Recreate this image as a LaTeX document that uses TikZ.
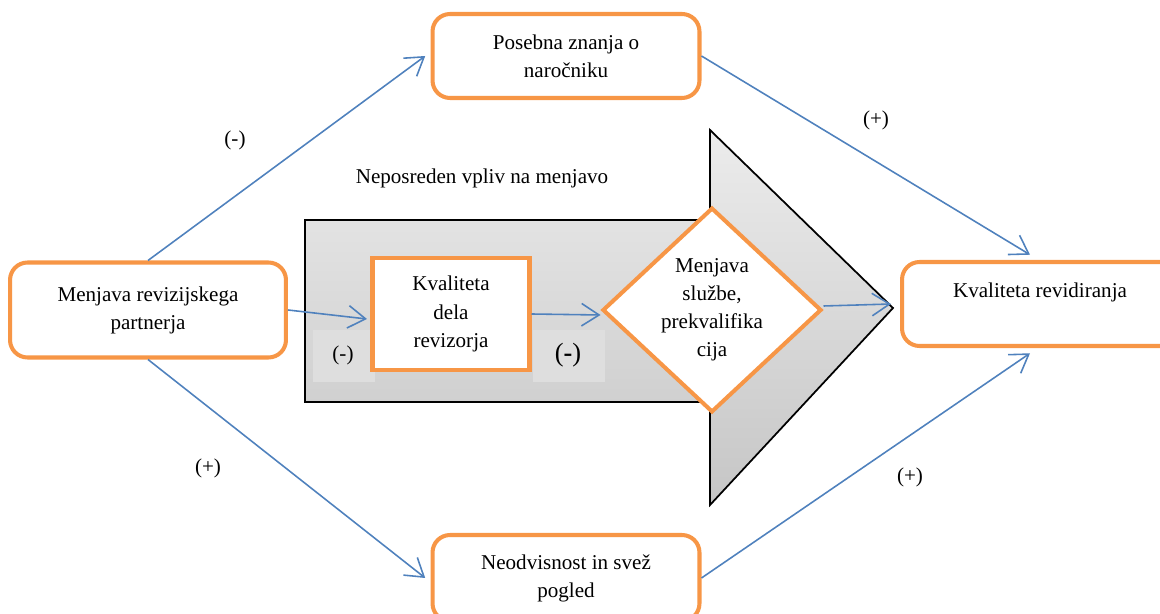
\documentclass[tikz,border=0pt]{standalone}
\usepackage{fontspec}
\setmainfont{Liberation Serif}
\usetikzlibrary{shapes.geometric, arrows.meta, positioning}
\definecolor{boxorange}{RGB}{247,150,70}
\definecolor{linkblue}{RGB}{79,129,189}
\definecolor{patchgray}{RGB}{222,222,222}

\tikzset{
    roundbox/.style={draw=boxorange, line width=2.3pt, rounded corners=0.35cm, fill=white,
        align=center, font=\fontsize{12}{16}\selectfont, inner sep=2pt},
    squarebox/.style={draw=boxorange, line width=2.3pt, fill=white,
        align=center, font=\fontsize{12}{16}\selectfont},
    link/.style={draw=linkblue, line width=0.9pt, -{Straight Barb[length=3.5mm,width=4.5mm]}},
    sign/.style={font=\fontsize{12}{16}\selectfont, inner sep=1pt}
}

\begin{document}
\begin{tikzpicture}[x=0.02cm, y=-0.02cm]
    \useasboundingbox (0,0) rectangle (1160,614);

    % big shaded arrow
    \shade[top color=gray!15, bottom color=gray!45, draw=black, line width=1pt]
        (305,220) -- (710,220) -- (710,130) -- (893,308) -- (710,505) -- (710,402) -- (305,402) -- cycle;
    \fill[patchgray] (313,330) rectangle (375,382);
    \fill[patchgray] (533,330) rectangle (605,382);

    \node[font=\fontsize{12}{16}\selectfont] (title) at (482,178) {Neposreden vpliv na menjavo};

    % boxes
    \node[roundbox, minimum width=5.34cm, minimum height=1.68cm] (znanja) at (566,56) {Posebna znanja o\\naročniku};
    \node[roundbox, minimum width=5.52cm, minimum height=1.9cm] (partner) at (148,310) {Menjava revizijskega\\partnerja};
    \node[roundbox, minimum width=5.52cm, minimum height=1.68cm] (kvrev) at (1040,304) {Kvaliteta revidiranja\\\mbox{}};
    \node[roundbox, minimum width=5.34cm, minimum height=1.72cm] (svez) at (566,578) {Neodvisnost in svež\\pogled};
    \node[squarebox, minimum width=3.14cm, minimum height=2.24cm] (kdela) at (451,314) {Kvaliteta\\dela\\revizorja};
    \node[diamond, draw=boxorange, line width=2.3pt, fill=white, align=center,
        font=\fontsize{12}{16}\selectfont, minimum width=4.38cm, minimum height=4.04cm,
        inner sep=0pt] (sluzba) at (712,310) {Menjava\\službe,\\prekvalifika\\cija};

    % signs
    \node[sign] (sgnA) at (235,140) {(-)};
    \node[sign] (sgnB) at (876,120) {(+)};
    \node[sign] (sgnC) at (208,468) {(+)};
    \node[sign] (sgnD) at (910,477) {(+)};
    \node[sign] (sgnE) at (343,355) {(-)};
    \node[sign, font=\fontsize{15}{18}\selectfont] (sgnF) at (568,355) {(\textbf{-})};

    % connectors
    \draw[link] (partner.north) -- ([xshift=-3pt]znanja.west);
    \draw[link] (znanja.east) -- ([xshift=-10*0.02cm, yshift=3pt]kvrev.north);
    \draw[link] (partner.east) -- ([xshift=-2pt, yshift=-0.1cm]kdela.west);
    \draw[link] (kdela.east) -- ([yshift=-0.1cm]sluzba.west);
    \draw[link] ([yshift=0.08cm]sluzba.east) -- ([xshift=-0.18cm]kvrev.west);
    \draw[link] (partner.south) -- ([xshift=-3pt]svez.west);
    \draw[link] (svez.east) -- ([xshift=-10*0.02cm, yshift=-3pt]kvrev.south);
\end{tikzpicture}
\end{document}
